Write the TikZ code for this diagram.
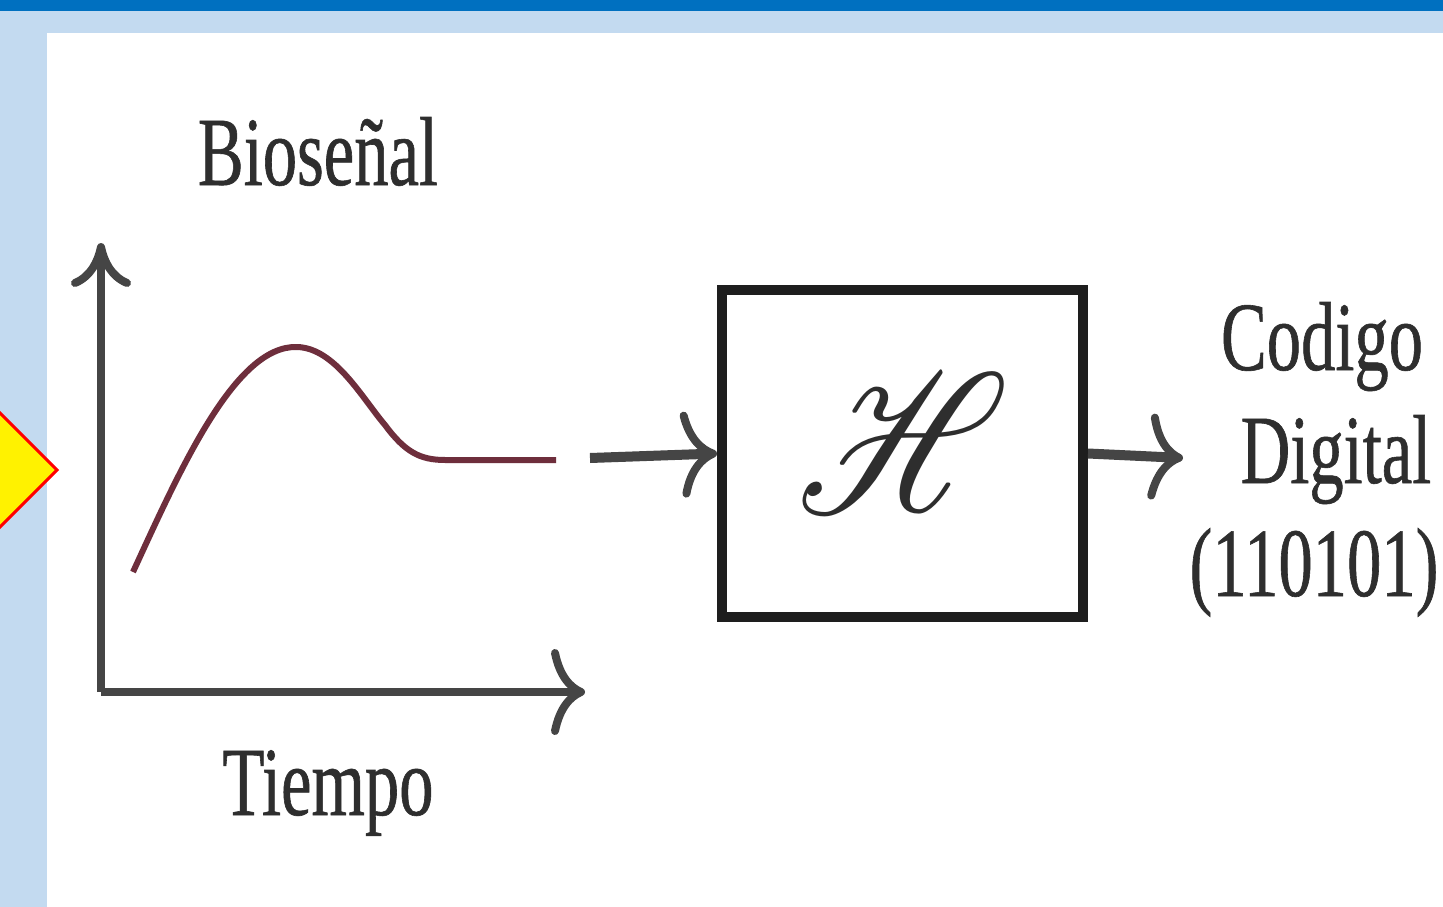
\documentclass[tikz,border=0pt]{standalone}
\usepackage{fontspec}
\setmainfont[FakeStretch=0.7,FakeBold=0.6]{Liberation Serif}
\usepackage{mathrsfs}
\usetikzlibrary{arrows.meta}
\definecolor{barblue}{HTML}{0070C0}
\definecolor{lightblue}{HTML}{C3DAF0}
\definecolor{axisgray}{HTML}{454545}
\definecolor{sigred}{HTML}{6E2E3C}
\definecolor{txtgray}{HTML}{2E2E2E}
\definecolor{boxline}{HTML}{1E1E1E}
\tikzset{
  lbl/.style={text=txtgray, font=\fontsize{98}{113}\selectfont, inner sep=0pt, anchor=base},
  axisline/.style={draw=axisgray, line width=8pt},
  conn/.style={draw=axisgray, line width=10pt},
  blockbox/.style={draw=boxline, line width=10pt, fill=white, minimum width=361pt, minimum height=327pt, inner sep=0pt}
}
\begin{document}
\begin{tikzpicture}[x=1pt,y=-1pt]
\useasboundingbox (0,0) rectangle (1443,907);
% background
\fill[lightblue] (0,0) rectangle (1443,907);
\fill[barblue] (0,0) rectangle (1443,11);
\fill[white] (47,33) rectangle (1443,907);
% yellow marker
\draw[red, line width=3pt, fill=yellow] (-57,470) -- (0,413) -- (57,470) -- (0,527) -- cycle;
% axes
\coordinate (origin) at (101,692);
\coordinate (ytop) at (101,243);
\coordinate (xend) at (585,692);
\draw[axisline, -{Computer Modern Rightarrow[length=44pt,width=60pt]}] (origin) -- (ytop);
\draw[axisline, -{Computer Modern Rightarrow[length=34pt,width=86pt]}] (origin) -- (xend);
% signal
\draw[sigred, line width=6pt] (133,572) .. controls (180,470) and (235,345) .. (297,347)
  .. controls (335,348) and (362,398) .. (385,425)
  .. controls (405,452) and (420,460) .. (445,460) -- (556,460);
% labels
\node[lbl] (bio) at (318,185) {Bioseñal};
\node[lbl] (tiempo) at (328,815) {Tiempo};
% block
\node[blockbox] (box) at (902.5,453.5) {};
\node[inner sep=0pt] (sym) at (903,443) {\textcolor{txtgray}{\scalebox{6.7}[8.0]{\fontsize{100}{100}\selectfont$\mathscr{H}$}}};
% connectors
\coordinate (in0) at (590,458);
\coordinate (out1) at (1183,458);
\draw[conn, -{Computer Modern Rightarrow[length=36pt,width=86pt,line width=8pt]}] (in0) -- (box.west);
\draw[conn, -{Computer Modern Rightarrow[length=34pt,width=86pt,line width=8pt]}] (box.east) -- (out1);
% output labels
\node[lbl] (codigo) at (1322,370) {Codigo};
\node[lbl] (digital) at (1336,483) {Digital};
\node[lbl] (bits) at (1314,596) {(110101)};
\end{tikzpicture}
\end{document}
